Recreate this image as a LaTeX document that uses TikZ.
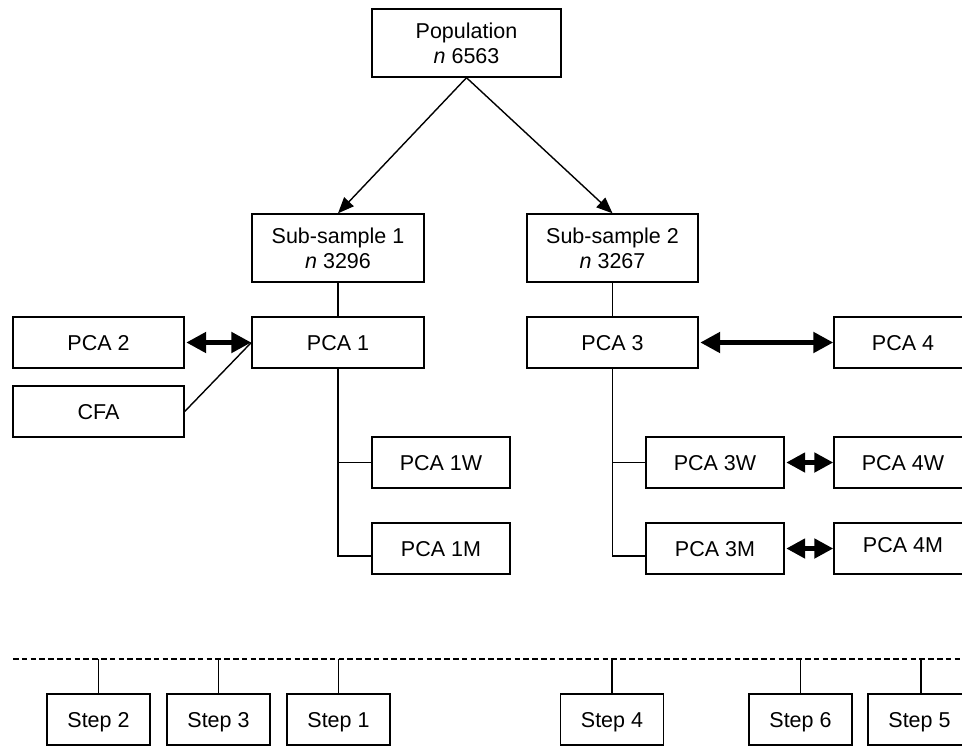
\documentclass[tikz,border=0pt]{standalone}
\usepackage{fontspec}
\setmainfont{Liberation Sans}
\usetikzlibrary{arrows.meta,calc}
\begin{document}
\begin{tikzpicture}[x=1pt,y=-1pt,
  basebox/.style={draw, line width=1.4pt, inner sep=0pt, font=\fontsize{21.5}{25}\selectfont},
  box/.style={basebox, minimum height=51pt, text height=15.5pt, text depth=0pt},
  twobox/.style={basebox, align=center, minimum height=68pt},
  wide/.style={minimum width=171pt},
  mid/.style={minimum width=138pt},
  stepbox/.style={box, minimum width=103pt},
  thin/.style={line width=1.4pt},
  bigarrow/.style={line width=5.5pt, {Triangle[length=20pt,width=20pt]}-{Triangle[length=20pt,width=20pt]}},
  smallarrow/.style={line width=5.5pt, {Triangle[length=19pt,width=19pt]}-{Triangle[length=19pt,width=19pt]}},
  poparrow/.style={line width=1.4pt, -{Triangle[length=16pt,width=13pt]}}
]
\useasboundingbox (0,0) rectangle (962,747);
\clip (0,0) rectangle (962,747);

% top
\node[twobox, minimum width=189pt] (pop) at (466.5,43) {Population\\\textit{n} 6563};
\node[twobox, minimum width=172pt] (ss1) at (338,248) {Sub-sample 1\\\textit{n} 3296};
\node[twobox, wide] (ss2) at (612.5,248) {Sub-sample 2\\\textit{n} 3267};

% PCA row
\node[box, minimum width=172pt] (pca1) at (338,342.5) {PCA 1};
\node[box, wide] (pca2) at (98.5,342.5) {PCA 2};
\node[box, wide] (cfa) at (98.5,411.5) {CFA};
\node[box, wide] (pca3) at (612.5,342.5) {PCA 3};
\node[box, mid] (pca4) at (903,342.5) {PCA 4};

% sub-analyses
\node[box, mid] (pca1w) at (441,462.5) {PCA 1W};
\node[box, mid] (pca1m) at (441,548.5) {PCA 1M};
\node[box, mid] (pca3w) at (715,462.5) {PCA 3W};
\node[box, mid] (pca3m) at (715,548.5) {PCA 3M};
\node[box, mid] (pca4w) at (903,462.5) {PCA 4W};
\node[box, mid] (pca4m) at (903,548.5) {\raisebox{3.5pt}{PCA 4M}};

% steps
\node[stepbox] (s2) at (98.5,719.5) {Step 2};
\node[stepbox] (s3) at (218.5,719.5) {Step 3};
\node[stepbox] (s1) at (338.5,719.5) {Step 1};
\node[stepbox] (s4) at (612,719.5) {Step 4};
\node[stepbox] (s6) at (800.5,719.5) {Step 6};
\node[stepbox] (s5) at (919.5,719.5) {Step 5};

% connectors
\draw[poparrow] (pop.south) -- (ss1.north);
\draw[poparrow] (pop.south) -- (ss2.north);
\draw[thin] (ss1.south) -- (pca1.north);
\draw[thin] (ss2.south) -- (pca3.north);
\draw[thin] (cfa.east) -- (pca1.west);
\draw[bigarrow] ([xshift=1.5pt]pca2.east) -- (pca1.west);
\draw[bigarrow] ([xshift=1.5pt]pca3.east) -- (pca4.west);
\draw[smallarrow] ([xshift=1.5pt]pca3w.east) -- (pca4w.west);
\draw[smallarrow] ([xshift=1.5pt]pca3m.east) -- (pca4m.west);

\coordinate (b1m) at ([yshift=-7.5pt]pca1m.west);
\coordinate (b3m) at ([yshift=-7.5pt]pca3m.west);
\draw[thin] (pca1.south) |- (b1m);
\draw[thin] (pca1.south |- pca1w.west) -- (pca1w.west);
\draw[thin] (pca3.south) |- (b3m);
\draw[thin] (pca3.south |- pca3w.west) -- (pca3w.west);

% dashed divider
\coordinate (dl) at (13,659);
\coordinate (dr) at (962,659);
\draw[line width=1.1pt, dash pattern=on 5.5pt off 3.3pt] (dl) -- (dr);
\foreach \s/\x in {s2/98.5,s3/218.5,s1/338.5,s4/612,s6/800.5,s5/921}{
  \coordinate (t\s) at (\x,659);
  \draw[thin] (t\s) -- (t\s |- \s.north);
}
\end{tikzpicture}
\end{document}
